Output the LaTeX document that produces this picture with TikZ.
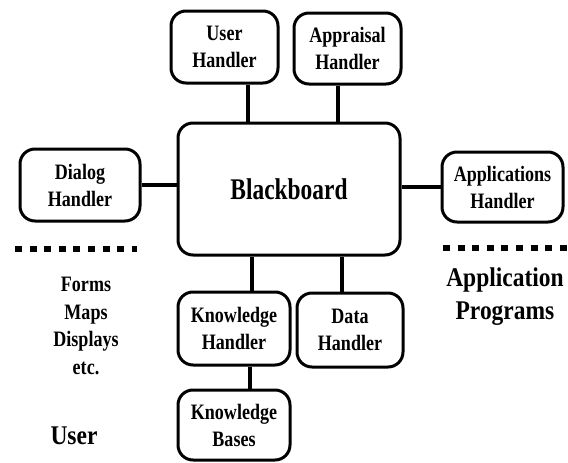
\documentclass[tikz,border=0pt]{standalone}
\usepackage{fontspec}
\setmainfont{Liberation Serif}
\newfontfamily\narrowserif{Liberation Serif}[FakeStretch=0.82]
\newfontfamily\titleserif{Liberation Serif}[FakeStretch=0.78]
\newfontfamily\sideserif{Liberation Serif}[FakeStretch=0.87]
\begin{document}
\begin{tikzpicture}[x=1pt,y=-1pt,
  handler/.style={draw, line width=3pt, rounded corners=15pt, align=center,
    font=\narrowserif\fontsize{22}{27}\selectfont\bfseries, inner sep=0pt},
  link/.style={line width=4.5pt},
  dashrow/.style={line width=6pt, dash pattern=on 7pt off 7.6pt},
  label/.style={align=center, inner sep=0pt}]
\useasboundingbox (0,0) rectangle (568,463);

% Central blackboard and the handlers around it
\node[handler, minimum width=222pt, minimum height=132pt,
      font=\titleserif\fontsize{30}{30}\selectfont\bfseries] (bb) at (289,189) {Blackboard};
\node[handler, minimum width=107pt, minimum height=72pt] (uh) at (224.5,47) {User\\Handler};
\node[handler, minimum width=107pt, minimum height=71pt] (ah) at (347.5,48.5) {Appraisal\\Handler};
\node[handler, minimum width=120pt, minimum height=72pt] (dh) at (80,185) {Dialog\\Handler};
\node[handler, minimum width=121pt, minimum height=70pt] (aph) at (502.5,187) {Applications\\Handler};
\node[handler, minimum width=112pt, minimum height=73pt] (kh) at (234,328.5) {Knowledge\\Handler};
\node[handler, minimum width=106pt, minimum height=74pt] (dah) at (350,330) {Data\\Handler};
\node[handler, minimum width=112pt, minimum height=70pt] (kb) at (234,425) {Knowledge\\Bases};

% Attachment columns and rows of the connectors
\coordinate (cu) at (248,0);
\coordinate (ca) at (338,0);
\coordinate (ck) at (252,0);
\coordinate (cd) at (342,0);
\coordinate (cb) at (250,0);
\coordinate (rd) at (0,185);
\coordinate (ra) at (0,187);

\draw[link] (uh.south -| cu) -- (bb.north -| cu);
\draw[link] (ah.south -| ca) -- (bb.north -| ca);
\draw[link] (dh.east |- rd) -- (bb.west |- rd);
\draw[link] (aph.west |- ra) -- (bb.east |- ra);
\draw[link] (bb.south -| ck) -- (kh.north -| ck);
\draw[link] (bb.south -| cd) -- (dah.north -| cd);
\draw[link] (kh.south -| cb) -- (kb.north -| cb);

% Dotted dividers between the user side and the application side
\coordinate (dl1) at (15,249);
\coordinate (dl2) at (137,249);
\coordinate (dr1) at (443,248);
\coordinate (dr2) at (572,248);
\draw[dashrow] (dl1) -- (dl2);
\draw[dashrow] (dr1) -- (dr2);

% Free labels
\node[label, font=\narrowserif\fontsize{22}{27.5}\selectfont\bfseries] (forms) at (86,326)
  {Forms\\Maps\\Displays\\etc.};
\node[label, font=\sideserif\fontsize{27}{28}\selectfont\bfseries] (user) at (74,436) {User};
\node[label, font=\sideserif\fontsize{27}{33}\selectfont\bfseries] (progs) at (505,297)
  {Application\\Programs};
\end{tikzpicture}
\end{document}
